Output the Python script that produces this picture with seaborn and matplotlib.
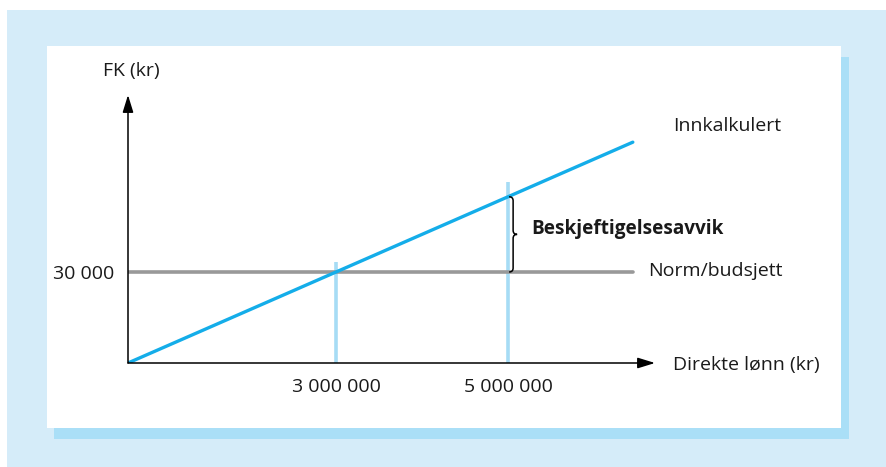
import matplotlib
matplotlib.use("Agg")
import matplotlib.pyplot as plt
from matplotlib.patches import Rectangle
from matplotlib.path import Path
from matplotlib.patches import PathPatch
import seaborn as sns
import pandas as pd

# ---- data (schematic values) ----
innk_x = [580000, 6450000]
innk_y = [0, 72800]
norm_x = [580000, 6450000]
norm_y = [30000, 30000]
marker_x = [3000000, 5000000]
marker_top = [33300, 59700]
xtick_vals = [3000000, 5000000]
xtick_labels = ["3 000 000", "5 000 000"]
ytick_vals = [30000]
ytick_labels = ["30 000"]
gap_x = 5000000
gap_low = 30000
gap_high = 54800

sns.set_theme(style="white")
plt.rcParams["font.family"] = ["Open Sans", "DejaVu Sans"]

W, H = 886, 467
fig = plt.figure(figsize=(W / 100, H / 100), dpi=100)
fig.patch.set_facecolor("white")

def frect(x0, y0, x1, y1, color, z):
    fig.patches.append(Rectangle((x0 / W, 1 - y1 / H), (x1 - x0) / W, (y1 - y0) / H,
                                 transform=fig.transFigure, facecolor=color,
                                 edgecolor="none", zorder=z))

frect(7, 10, 886, 467, "#d5ecf9", 0)
frect(54, 57, 849, 439, "#aadff7", 1)
frect(47, 46, 841, 428, "white", 2)

# axes positioned so origin is at pixel (128,363), top at y=95, right at x=655
ox, oy, rx, ty = 128, 363, 655, 95
ax = fig.add_axes([ox / W, 1 - oy / H, (rx - ox) / W, (oy - ty) / H])
ax.set_facecolor("none")
ax.set_zorder(5)
ax.set_xlim(580000, 580000 + (rx - ox) / 86e-6)
ax.set_ylim(0, (oy - ty) * 30000 / 91)
for s in ax.spines.values():
    s.set_visible(False)

df_innk = pd.DataFrame({"x": innk_x, "y": innk_y})
df_norm = pd.DataFrame({"x": norm_x, "y": norm_y})

ax.vlines(marker_x, 0, marker_top, color="#a6dcf5", lw=2.6, zorder=1)
sns.lineplot(data=df_norm, x="x", y="y", ax=ax, color="#999999", lw=2.6, zorder=2)
sns.lineplot(data=df_innk, x="x", y="y", ax=ax, color="#14ade9", lw=2.4, zorder=3)

# axis arrows
arrow_kw = dict(arrowstyle="-|>,head_length=0.42,head_width=0.13", mutation_scale=25,
                lw=1.1, color="black", shrinkA=0, shrinkB=0)
ax.annotate("", xy=(1, 0), xytext=(0, 0), xycoords="axes fraction",
            textcoords="axes fraction", arrowprops=arrow_kw, zorder=4)
ax.annotate("", xy=(0, 1), xytext=(0, 0), xycoords="axes fraction",
            textcoords="axes fraction", arrowprops=arrow_kw, zorder=4)

fs = 14
tc = "#1a1a1a"
ax.set_xticks(xtick_vals)
ax.set_xticklabels(xtick_labels)
ax.set_yticks(ytick_vals)
ax.set_yticklabels(ytick_labels)
ax.tick_params(axis="x", length=0, pad=11, labelsize=fs, colors=tc)
ax.tick_params(axis="y", length=0, pad=10, labelsize=fs, colors=tc)
ax.set_xlabel("")
ax.set_ylabel("")

ax.text(0.007, 1.0 + (95 - 71) / (oy - ty), "FK (kr)", transform=ax.transAxes,
        ha="center", va="center", fontsize=fs, color=tc)
ax.text((673 - ox) / (rx - ox), (oy - 126) / (oy - ty), "Innkalkulert", transform=ax.transAxes,
        ha="left", va="center", fontsize=fs, color=tc)
ax.text((648 - ox) / (rx - ox), (oy - 271) / (oy - ty), "Norm/budsjett", transform=ax.transAxes,
        ha="left", va="center", fontsize=fs, color=tc)
ax.text((673 - ox) / (rx - ox), (oy - 365) / (oy - ty), "Direkte lønn (kr)", transform=ax.transAxes,
        ha="left", va="center", fontsize=fs, color=tc)

# curly brace between norm and innkalkulert at 5 000 000
dt = ax.transData
p_top = dt.transform((gap_x, gap_high))
p_bot = dt.transform((gap_x, gap_low))
xt = p_top[0]
yt, yb = p_top[1], p_bot[1]
ym = (yt + yb) / 2
verts = [
    (xt + 1, yt), (xt + 5, yt), (xt + 5, yt - 4),
    (xt + 5, ym + 4), (xt + 5, ym), (xt + 9, ym),
    (xt + 5, ym), (xt + 5, ym - 4),
    (xt + 5, yb + 4), (xt + 5, yb), (xt + 1, yb),
]
codes = [Path.MOVETO, Path.CURVE3, Path.CURVE3,
         Path.LINETO, Path.CURVE3, Path.CURVE3,
         Path.CURVE3, Path.CURVE3,
         Path.LINETO, Path.CURVE3, Path.CURVE3]
brace = PathPatch(Path(verts, codes), transform=None, fill=False, lw=1.1,
                  edgecolor="black", zorder=6)
ax.add_artist(brace)
ax.text(531, H - 229, "Beskjeftigelsesavvik", transform=None, ha="left", va="center",
        fontsize=13.7, fontweight="bold", color=tc, zorder=6)

fig.savefig("out.png", dpi=100)
